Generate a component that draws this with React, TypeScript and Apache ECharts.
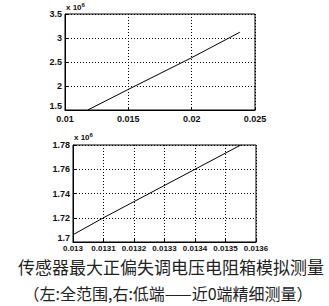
import React, { useEffect, useRef } from "react";
import * as echarts from "echarts";

const topLine: [number, number][] = [
  [0.0118, 1.5],
  [0.015, 1.93],
  [0.02, 2.59],
  [0.0238, 3.12],
];
const bottomLine: [number, number][] = [
  [0.013, 1.706],
  [0.0131, 1.72],
  [0.0134, 1.76],
  [0.01355, 1.78],
];
const topX = { min: 0.01, max: 0.025, interval: 0.005 };
const topY = { min: 1.5, max: 3.5, interval: 0.5 };
const botX = { min: 0.013, max: 0.0136, interval: 0.0001 };
const botY = { min: 1.7, max: 1.78, interval: 0.02 };
const scaleLabel = "x 10{sup|6}";
const caption1 = "传感器最大正偏失调电压电阻箱模拟测量";
const caption2 = "（左:全范围,右:低端——近0端精细测量）";

const fmt = (v: number) => String(+v.toFixed(6));

export default function App() {
  const ref = useRef<HTMLDivElement>(null);
  useEffect(() => {
    if (!ref.current) return;
    const chart = echarts.init(ref.current, undefined, { renderer: "svg" });
    const labelStyle = {
      color: "#111",
      fontSize: 9,
      fontWeight: "bold" as const,
      fontFamily: "Liberation Sans, Arial, sans-serif",
    };
    const split = { show: true, lineStyle: { color: "#000", type: [1, 2], width: 1 } };
    const axisCommon = {
      type: "value" as const,
      axisLine: { show: true, lineStyle: { color: "#000", width: 1 } },
      axisTick: { show: true, inside: true, length: 3, lineStyle: { color: "#000" } },
      splitLine: split,
    };
    const supRich = { sup: { fontSize: 6, verticalAlign: "top", padding: [0, 0, 4, 0], fontWeight: "bold" } };
    chart.setOption({
      animation: false,
      backgroundColor: "#fff",
      grid: [
        { left: 65, top: 14, width: 190, height: 96, show: true, borderColor: "#000", borderWidth: 1 },
        { left: 73, top: 145, width: 183, height: 97, show: true, borderColor: "#000", borderWidth: 1 },
      ],
      xAxis: [
        {
          ...axisCommon,
          gridIndex: 0,
          ...topX,
          axisLabel: { ...labelStyle, margin: 4, formatter: fmt },
        },
        {
          ...axisCommon,
          gridIndex: 1,
          ...botX,
          axisLabel: { ...labelStyle, fontSize: 8, margin: 2, lineHeight: 9, formatter: fmt },
        },
      ],
      yAxis: [
        {
          ...axisCommon,
          gridIndex: 0,
          ...topY,
          axisLabel: { ...labelStyle, margin: 3, formatter: fmt, verticalAlignMinLabel: "bottom" },
        },
        {
          ...axisCommon,
          gridIndex: 1,
          ...botY,
          axisLabel: { ...labelStyle, margin: 3, formatter: fmt, verticalAlignMinLabel: "bottom" },
        },
      ],
      series: [
        {
          type: "line",
          xAxisIndex: 0,
          yAxisIndex: 0,
          data: topLine,
          showSymbol: false,
          symbol: "none",
          lineStyle: { color: "#000", width: 1 },
        },
        {
          type: "line",
          xAxisIndex: 1,
          yAxisIndex: 1,
          data: bottomLine,
          showSymbol: false,
          symbol: "none",
          lineStyle: { color: "#000", width: 1 },
        },
      ],
      graphic: [
        {
          type: "text",
          x: 66,
          y: 2,
          style: {
            text: scaleLabel,
            fill: "#111",
            fontSize: 8,
            fontWeight: "bold",
            fontFamily: "Liberation Sans, Arial, sans-serif",
            rich: supRich,
          },
        },
        {
          type: "text",
          x: 74,
          y: 132,
          style: {
            text: scaleLabel,
            fill: "#111",
            fontSize: 8,
            fontWeight: "bold",
            fontFamily: "Liberation Sans, Arial, sans-serif",
            rich: supRich,
          },
        },
        {
          type: "text",
          x: 171,
          y: 266,
          style: {
            text: caption1,
            fill: "#222",
            fontSize: 17,
            lineHeight: 17,
            textAlign: "center",
            textVerticalAlign: "middle",
            fontFamily: "Noto Sans CJK SC, sans-serif",
          },
        },
        {
          type: "text",
          x: 168,
          y: 293,
          style: {
            text: caption2,
            fill: "#222",
            fontSize: 16,
            lineHeight: 16,
            textAlign: "center",
            textVerticalAlign: "middle",
            fontFamily: "Noto Sans CJK SC, sans-serif",
          },
        },
      ],
    });
    return () => chart.dispose();
  }, []);
  return (
    <div
      ref={ref}
      style={{ position: "absolute", left: 0, top: 0, width: 329, height: 306 }}
    />
  );
}
